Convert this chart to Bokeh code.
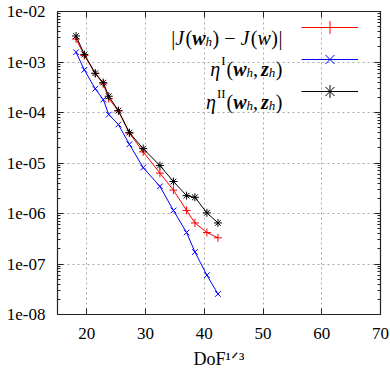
from bokeh.plotting import figure
from bokeh.models import (FixedTicker, LinearAxis, LogAxis, Legend, LegendItem,
                          Label, CustomJSTickFormatter, Range1d)
from bokeh.embed import file_html
from bokeh.resources import INLINE

# ---------------- data ----------------
dof = [18.16, 19.57, 21.43, 22.79, 23.73, 25.37, 27.24, 29.59,
       32.44, 34.74, 36.98, 38.40, 40.44, 42.32]
err_true = [2.85e-3, 1.35e-3, 5.9e-4, 3.7e-4, 1.88e-4, 1.07e-4, 3.9e-5,
            1.66e-5, 6.3e-6, 2.9e-6, 1.15e-6, 6.5e-7, 4.2e-7, 3.3e-7]
eta_1 = [1.56e-3, 7.0e-4, 2.95e-4, 1.8e-4, 9.1e-5, 5.8e-5, 2.34e-5,
         8.1e-6, 3.45e-6, 1.15e-6, 4.2e-7, 1.73e-7, 6.0e-8, 2.55e-8]
eta_2 = [3.27e-3, 1.41e-3, 6.0e-4, 3.9e-4, 2.1e-4, 1.09e-4, 4.0e-5,
         1.93e-5, 8.9e-6, 4.3e-6, 2.26e-6, 2.09e-6, 1.03e-6, 6.5e-7]

x_ticks = [20, 30, 40, 50, 60, 70]
y_ticks = [1e-8, 1e-7, 1e-6, 1e-5, 1e-4, 1e-3, 1e-2]
y_minor = [m * 10.0 ** e for e in range(-8, -2) for m in range(2, 10)]
x_label = "DoF\u00b9\u141f\u00b3"

FONT = "Liberation Serif"
AX = "#222222"

p = figure(width=390, height=375,
           x_range=Range1d(15, 70), y_range=Range1d(1e-8, 1e-2),
           y_axis_type="log", output_backend="svg", toolbar_location=None,
           min_border_left=57, min_border_right=10,
           min_border_top=11, min_border_bottom=61)
p.outline_line_color = None
p.background_fill_color = "white"
p.border_fill_color = "white"


def style_axis(ax):
    ax.axis_line_color = AX
    ax.axis_line_width = 1.2
    ax.major_tick_in = 6
    ax.major_tick_out = 0
    ax.minor_tick_in = 3
    ax.minor_tick_out = 0
    ax.major_tick_line_color = AX
    ax.minor_tick_line_color = AX
    ax.major_label_text_font = FONT
    ax.major_label_text_font_size = "17px"
    ax.major_label_text_color = "black"


xt = FixedTicker(ticks=x_ticks)
yt = FixedTicker(ticks=y_ticks, minor_ticks=y_minor)

xa = p.xaxis[0]
xa.ticker = xt
style_axis(xa)
xa.major_label_standoff = 13
xa.axis_label = x_label
xa.axis_label_text_font = FONT
xa.axis_label_text_font_size = "18px"
xa.axis_label_text_font_style = "normal"
xa.axis_label_text_color = "black"
xa.axis_label_standoff = 7

ya = p.yaxis[0]
ya.ticker = yt
style_axis(ya)
ya.major_label_standoff = 12
ya.formatter = CustomJSTickFormatter(code="""
const e = Math.round(Math.log10(tick));
const s = Math.abs(e).toString().padStart(2, '0');
return '1e' + (e < 0 ? '-' : '+') + s;
""")

blank = CustomJSTickFormatter(code="return '';")
top = LinearAxis(ticker=FixedTicker(ticks=x_ticks), formatter=blank)
style_axis(top)
top.major_label_text_font_size = "1px"
top.major_label_standoff = 0
p.add_layout(top, "above")

right = LogAxis(ticker=FixedTicker(ticks=y_ticks, minor_ticks=y_minor), formatter=blank)
style_axis(right)
right.major_label_text_font_size = "1px"
right.major_label_standoff = 0
p.add_layout(right, "right")

for g, t in ((p.xgrid, xt), (p.ygrid, yt)):
    g.ticker = t
    g.grid_line_color = "#a8a8a8"
    g.grid_line_dash = "2 3"
    g.grid_line_width = 1

# ---------------- series ----------------
l1 = p.line(dof, err_true, line_color="#ff0000", line_width=1)
s1 = p.scatter(dof, err_true, marker="cross", size=8, line_color="#ff0000", line_width=1)
l2 = p.line(dof, eta_1, line_color="#0000ff", line_width=1)
s2 = p.scatter(dof, eta_1, marker="x", size=8, line_color="#0000ff", line_width=1)
l3 = p.line(dof, eta_2, line_color="#000000", line_width=1)
s3 = p.scatter(dof, eta_2, marker="asterisk", size=8, line_color="#000000", line_width=1)

legend = Legend(items=[LegendItem(label=" ", renderers=[l1, s1]),
                       LegendItem(label=" ", renderers=[l2, s2]),
                       LegendItem(label=" ", renderers=[l3, s3])],
                location="top_right", glyph_width=57, glyph_height=32,
                spacing=0, padding=5, margin=0, label_standoff=22,
                label_width=0, label_height=0, label_text_font_size="1px",
                border_line_color=None, background_fill_alpha=0)
p.add_layout(legend)


# ---------------- rich text (legend labels) ----------------
# piece = (text, font style, size px, baseline shift px, advance in em, gap before px)
def rich(pieces, right_x, base):
    total = sum(w * s + g for (_, _, s, _, w, g) in pieces)
    x = right_x - total
    for text, style, size, dy, w, gap in pieces:
        x += gap
        p.add_layout(Label(x=x, y=base + dy, x_units="screen", y_units="screen",
                           text=text, text_font=FONT, text_font_style=style,
                           text_font_size=f"{size}px", text_color="black",
                           text_baseline="alphabetic", text_align="left"))
        x += w * size


R = 225
rich([("|", "normal", 20, 0, 0.2, 0), ("J", "italic", 20, 0, 0.444, 0),
      ("(", "normal", 20, 0, 0.333, 1.5), ("w", "bold italic", 20, 0, 0.667, 0),
      ("h", "italic", 13, -4, 0.5, 0), (")", "normal", 20, 0, 0.333, 0.5),
      ("\u2212", "normal", 20, 0, 0.564, 5), ("J", "italic", 20, 0, 0.444, 5),
      ("(", "normal", 20, 0, 0.333, 1.5), ("w", "italic", 20, 0, 0.667, 0),
      (")", "normal", 20, 0, 0.333, 0.5), ("|", "normal", 20, 0, 0.2, 0.5)], R, 277)

for sup, base in (("I", 246), ("II", 213)):
    rich([("\u03b7", "italic", 20, 0, 0.5, 0), (sup, "normal", 13, 8, 0.333 * len(sup), 1),
          ("(", "normal", 20, 0, 0.333, 1), ("w", "bold italic", 20, 0, 0.667, 0),
          ("h", "italic", 13, -4, 0.5, 0), (",", "normal", 20, 0, 0.25, 0),
          ("z", "bold italic", 20, 0, 0.389, 3), ("h", "italic", 13, -4, 0.5, 0),
          (")", "normal", 20, 0, 0.333, 0.5)], R, base)

open("out.html", "w").write(file_html(p, INLINE))
